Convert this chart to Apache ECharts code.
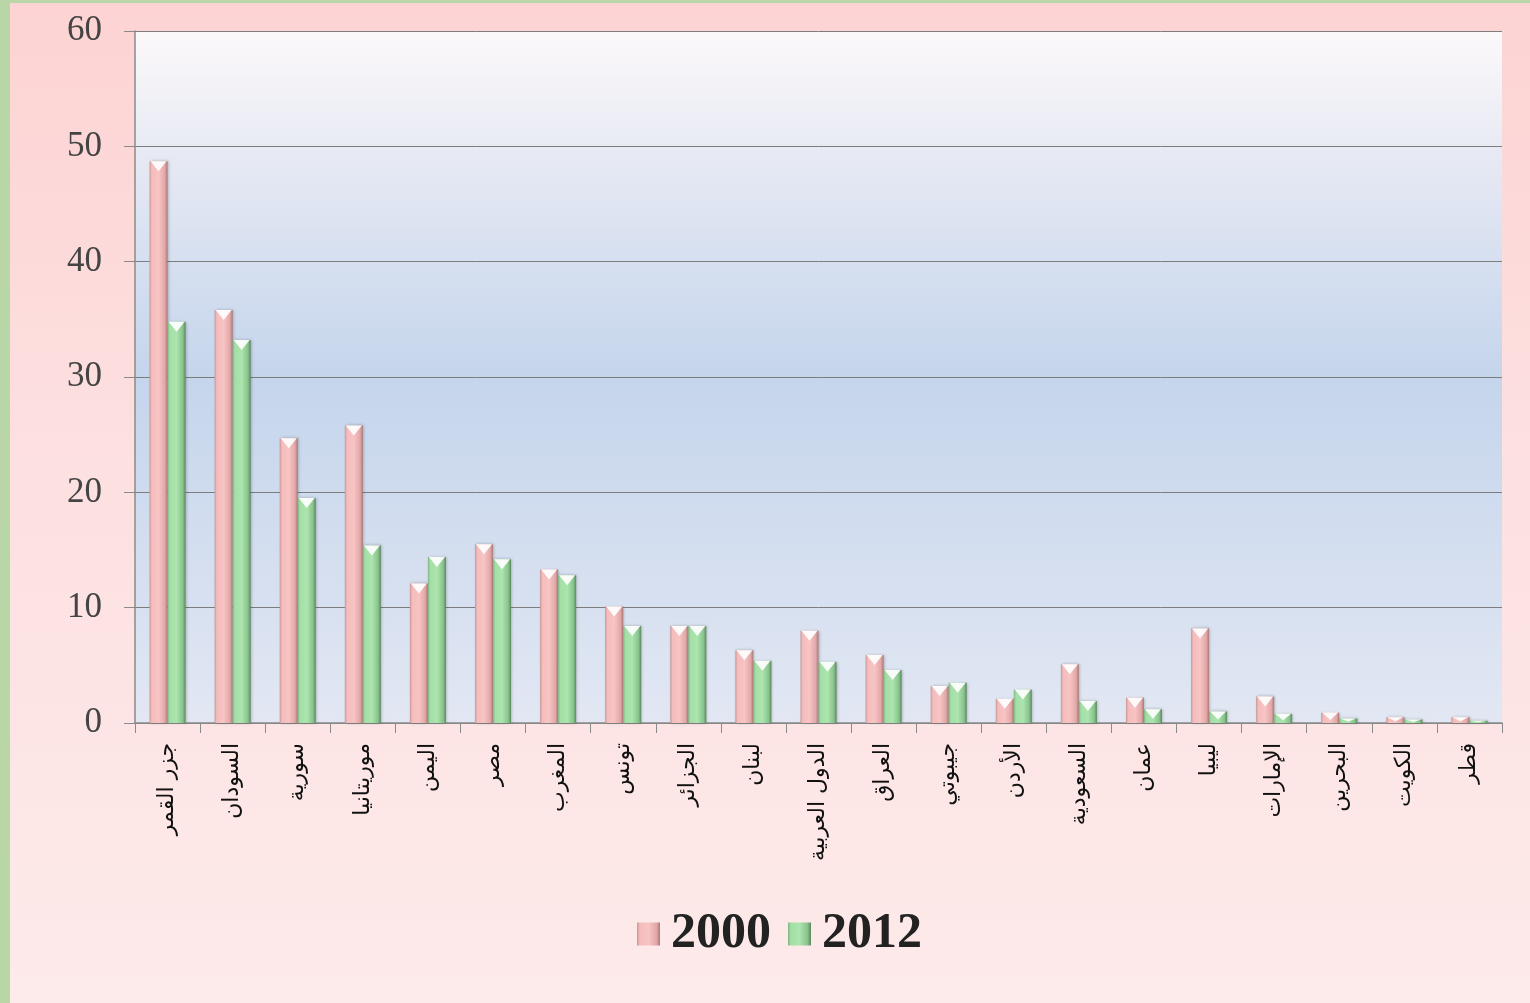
<!DOCTYPE html>
<html><head><meta charset="utf-8">
<script src="https://cdn.jsdelivr.net/npm/echarts@6/dist/echarts.min.js"></script>
<style>
html,body{margin:0;padding:0;width:1530px;height:1003px;overflow:hidden;background:#b9d6a6;}
#bg{position:absolute;left:10px;top:3px;width:1520px;height:1000px;background:linear-gradient(to bottom,#fdd3d3 0%,#fde0e0 45%,#fdeaea 100%);}
#chart{position:absolute;left:10px;top:3px;width:1520px;height:1000px;}
</style></head>
<body><div id="bg"></div><div id="chart"></div>
<script>
const categories = ['جزر القمر','السودان','سورية','موريتانيا','اليمن','مصر','المغرب','تونس','الجزائر','لبنان','الدول العربية','العراق','جيبوتي','الأردن','السعودية','عمان','ليبيا','الإمارات','البحرين','الكويت','قطر'];
const values2000 = [48.7,35.8,24.7,25.8,12.1,15.5,13.3,10.1,8.4,6.3,8.0,5.9,3.2,2.1,5.1,2.2,8.2,2.3,0.9,0.5,0.5];
const values2012 = [34.8,33.2,19.5,15.4,14.4,14.2,12.8,8.4,8.4,5.4,5.3,4.6,3.5,2.9,1.9,1.2,1.0,0.8,0.4,0.3,0.2];
const yTicks = [0,10,20,30,40,50,60];

const chart = echarts.init(document.getElementById('chart'));
const pinkFill = new echarts.graphic.LinearGradient(0,0,1,0,[
  {offset:0,color:'#c79696'},{offset:0.12,color:'#f5bcbc'},{offset:0.5,color:'#f8c4c4'},{offset:0.85,color:'#e2a7a7'},{offset:1,color:'#a87878'}]);
const greenFill = new echarts.graphic.LinearGradient(0,0,1,0,[
  {offset:0,color:'#7fb383'},{offset:0.12,color:'#a3dfa6'},{offset:0.5,color:'#ace5ae'},{offset:0.85,color:'#88c28c'},{offset:1,color:'#5a875d'}]);
const BW = 18;
const PX_PER_UNIT = 692/60;
function tops(vals){
  return vals.map(v => ({value:v, symbolSize:[BW-2, Math.max(1, Math.min(10, v*PX_PER_UNIT*0.7))]}));
}
chart.setOption({
  animation:false,
  grid:{left:125,right:28,top:28,bottom:280,show:true,borderWidth:0,
    backgroundColor:new echarts.graphic.LinearGradient(0,0,0,1,[
      {offset:0,color:'#fcf9fa'},{offset:0.2,color:'#e4e8f3'},{offset:0.5,color:'#c5d5ec'},{offset:1,color:'#e2e7f3'}])},
  legend:{bottom:39,left:622,icon:'rect',itemWidth:23,itemHeight:23,itemGap:17,
    textStyle:{fontFamily:'Liberation Serif',fontWeight:'bold',fontSize:50,color:'#222',padding:[0,0,0,6]},
    data:[{name:'2000',itemStyle:{color:pinkFill}},{name:'2012',itemStyle:{color:greenFill}}]},
  xAxis:{type:'category',data:categories,
    axisLine:{lineStyle:{color:'#8a8a8a',width:1.5}},
    axisTick:{show:true,length:10,lineStyle:{color:'#8a8a8a'}},
    axisLabel:{rotate:90,interval:0,margin:20,fontFamily:'DejaVu Sans',fontSize:22,color:'#111'}},
  yAxis:{type:'value',min:0,max:60,interval:10,
    axisLine:{show:true,lineStyle:{color:'#8a8a8a',width:1.5}},
    axisTick:{show:true,length:11,lineStyle:{color:'#8a8a8a'}},
    splitLine:{lineStyle:{color:'#7d7d7d',width:1}},
    axisLabel:{margin:33,fontFamily:'Liberation Serif',fontSize:35,color:'#444'}},
  series:[
    {name:'2000',type:'bar',data:values2000,barWidth:BW,barGap:'0%',
      itemStyle:{color:pinkFill,shadowColor:'rgba(0,0,0,0.25)',shadowBlur:3,shadowOffsetX:1}},
    {name:'2012',type:'bar',data:values2012,barWidth:BW,barGap:'0%',
      itemStyle:{color:greenFill,shadowColor:'rgba(0,0,0,0.25)',shadowBlur:3,shadowOffsetX:1}},
    {name:'2000',type:'pictorialBar',data:tops(values2000),barWidth:BW,barGap:'0%',symbol:'triangle',symbolRotate:180,
      symbolPosition:'end',symbolOffset:[0,0],itemStyle:{color:'rgba(255,255,255,0.92)'},z:5},
    {name:'2012',type:'pictorialBar',data:tops(values2012),barWidth:BW,barGap:'0%',symbol:'triangle',symbolRotate:180,
      symbolPosition:'end',symbolOffset:[0,0],itemStyle:{color:'rgba(255,255,255,0.92)'},z:5}
  ]
});
</script></body></html>
